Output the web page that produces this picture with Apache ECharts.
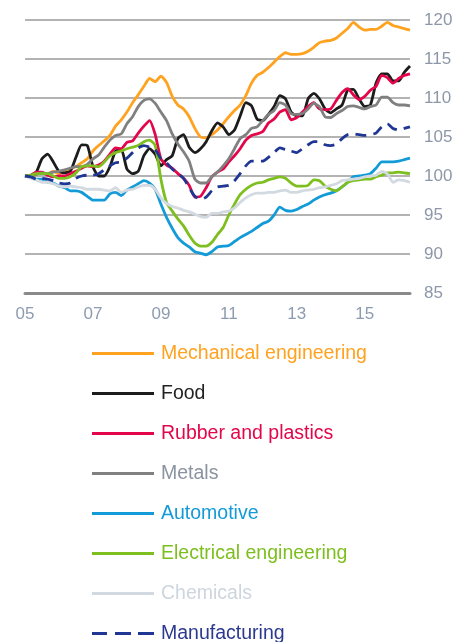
<!DOCTYPE html>
<html>
<head>
<meta charset="utf-8">
<script src="https://cdn.jsdelivr.net/npm/echarts@6/dist/echarts.min.js"></script>
<style>
html,body{margin:0;padding:0;background:#fff;}
#chart{width:457px;height:642px;}
</style>
</head>
<body>
<div id="chart"></div>
<script>
// Bi-monthly index values, Jan 2005 .. May 2016 (2005 = 100)
const startYear = 2005, endYear = 2016, endMonth = 5;
const months = [];
for (let y = startYear; y <= endYear; y++) {
  for (let m = 1; m <= 12; m += 2) {
    if (y === endYear && m > endMonth) break;
    months.push(y + '-' + (m < 10 ? '0' + m : m));
  }
}
const yTicks = [85, 90, 95, 100, 105, 110, 115, 120];

const mechanical = [100,99.8,100.2,100.4,100.3,100.6,100.3,100.6,100.9,101.2,101.7,102.2,103.2,103.9,104.5,105.2,106.4,107.2,108.2,109.4,110.4,111.5,112.5,112.1,112.8,112.0,110.2,109.1,108.6,107.6,106.1,105.0,104.9,105.3,105.9,106.7,107.6,108.4,109.1,110.3,111.9,112.9,113.3,113.9,114.6,115.3,115.8,115.6,115.6,115.7,116.0,116.5,117.1,117.3,117.4,117.7,118.3,118.9,119.7,119.1,118.7,118.8,118.8,119.2,119.7,119.3,119.1,118.9,118.7];
const food = [100,99.9,100.5,102.2,102.8,101.8,100.6,100.4,100.6,102.4,104.0,103.9,101.2,100.0,100.0,101.2,103.2,103.4,100.9,100.3,100.6,102.6,103.5,102.8,101.3,102.1,102.6,104.8,105.3,103.7,103.0,103.5,104.4,105.8,106.8,106.3,105.3,105.9,107.7,109.4,109.0,107.3,107.1,107.9,108.9,110.3,109.9,108.2,107.7,107.7,109.9,110.6,109.9,108.6,108.1,108.6,109.1,111.0,111.1,109.9,108.9,109.1,111.9,113.1,113.1,112.2,112.2,113.3,114.1];
const rubber = [100,100.1,100.5,100.5,100.1,99.9,100,100,100.3,100.6,101.0,101.3,101.2,101.4,101.9,102.8,103.6,103.5,104.3,104.5,105.5,106.4,107.1,105.3,102.2,101.4,101.0,100.3,99.7,98.8,97.3,97.4,98.5,99.9,100.5,100.9,101.8,102.6,103.5,104.6,105.2,105.4,105.7,106.8,107.3,108.2,108.5,107.2,107.5,108.2,108.9,109.4,108.6,108.5,108.6,109.7,110.7,111.2,110.4,109.8,110.2,111.0,111.5,112.9,112.6,111.9,112.5,112.9,113.1];
const metals = [100,100,100.2,100.4,100.3,100.5,100.6,100.8,101.0,101.2,101.2,101.5,102.2,102.7,103.7,104.6,105.2,105.4,106.7,107.6,108.9,109.7,109.9,109.3,108.2,107.1,105.4,104.1,103.1,101.9,99.6,99.1,99.1,99.9,100.5,101.3,102.2,103.5,104.8,105.3,106.1,106.3,107.1,107.9,108.4,109.4,109.1,108.0,107.9,108.0,108.6,109.3,108.9,107.6,107.5,108.0,108.4,108.9,109.0,108.8,108.6,108.9,109.1,110.1,110.1,109.4,109.1,109.1,109.0];
const automotive = [100,99.9,99.6,99.6,99.2,99.1,98.7,98.5,98.1,98.1,97.9,97.4,96.9,96.9,96.9,97.7,97.9,97.5,98.2,98.6,99.0,99.4,99.1,98.3,96.4,94.7,93.3,92.1,91.4,90.9,90.3,90.1,89.9,90.3,90.9,91.0,91.1,91.6,92.1,92.5,92.9,93.4,93.9,94.2,95.0,96.0,95.6,95.5,95.7,96.1,96.4,96.9,97.3,97.6,97.8,98.1,98.6,99.2,99.9,100,100.1,100.3,101.0,101.8,101.8,101.8,101.9,102.1,102.3];
const electrical = [100,100.1,100.3,100.3,100.3,100,99.7,99.7,99.9,100.4,101.2,101.3,101.3,101.2,101.8,102.6,103.0,103.2,103.5,103.7,103.9,104.4,104.6,103.9,99.6,96.6,95.5,94.5,93.6,92.4,91.4,91.0,91.0,91.5,92.5,93.4,95.0,96.4,97.6,98.3,98.8,99.1,99.2,99.5,99.7,99.9,99.7,99.1,98.7,98.7,98.8,99.5,99.4,98.7,98.3,98.1,98.6,99.2,99.4,99.5,99.6,99.6,99.9,100.1,100.4,100.4,100.5,100.4,100.3];
const chemicals = [100,99.7,99.5,99.2,99.2,99.0,98.7,98.6,98.7,98.6,98.5,98.3,98.3,98.3,98.2,98.1,98.5,97.9,98.2,98.3,98.6,98.8,98.8,98.3,97.2,96.5,96.1,95.9,95.6,95.4,95.1,94.8,94.7,95.2,95.2,95.4,95.5,95.9,96.6,97.2,97.6,97.8,97.8,97.9,97.9,98.1,98.2,97.9,97.9,98.1,98.2,98.3,98.5,98.6,98.8,99.0,99.4,99.5,99.6,99.7,99.9,100,100.1,100.6,100.3,99.2,99.5,99.4,99.2];
const manufacturing = [100,99.9,99.6,99.7,99.6,99.4,99.1,99.0,99.1,99.7,100,100.1,100.1,100.3,100.8,101.3,101.7,101.8,102.3,103.0,103.6,103.9,103.7,103.4,102.2,101.7,100.9,100.3,99.7,98.5,97.4,97.0,97.3,98.1,98.6,98.7,98.8,99.4,100.3,101.3,101.9,101.9,101.9,102.4,103.0,103.6,103.4,103.2,103.0,103.5,104.0,104.4,104.4,104.0,103.9,104.1,104.8,105.3,105.4,105.3,105.2,105.3,105.5,106.3,106.7,106.1,105.9,106.1,106.3];

const seriesDefs = [
  {name: 'Mechanical engineering', data: mechanical, color: '#ffa21f', text: '#ffa21f'},
  {name: 'Food', data: food, color: '#1c1c1c', text: '#222222'},
  {name: 'Rubber and plastics', data: rubber, color: '#e3064a', text: '#e3064a'},
  {name: 'Metals', data: metals, color: '#808080', text: '#8a93a0'},
  {name: 'Automotive', data: automotive, color: '#139bd8', text: '#139bd8'},
  {name: 'Electrical engineering', data: electrical, color: '#7dbf1e', text: '#7dbf1e'},
  {name: 'Chemicals', data: chemicals, color: '#d2d9e0', text: '#cdd5de'},
  {name: 'Manufacturing', data: manufacturing, color: '#1f3694', text: '#2b3990', dashed: true}
];

const solidIcon = 'path://M0,0h62v3h-62z';
const dashIcon = 'path://M0,0h15v3h-15zM23,0h16v3h-16zM46,0h16v3h-16z';

const chart = echarts.init(document.getElementById('chart'), null, {renderer: 'canvas'});
const fontFamily = '"Liberation Sans", Arial, sans-serif';
chart.setOption({
  animation: false,
  backgroundColor: '#fff',
  grid: {left: 25, right: 47, top: 20, bottom: 349, containLabel: false},
  xAxis: {
    type: 'category',
    data: months,
    boundaryGap: false,
    axisLine: {show: true, lineStyle: {color: '#8a8a8a', width: 3}},
    axisTick: {show: false},
    splitLine: {show: false},
    axisLabel: {
      interval: function (idx) { return idx % 12 === 0; },
      formatter: function (v) { return v.slice(2, 4); },
      color: '#8d9bb0',
      fontSize: 17,
      fontFamily: fontFamily,
      margin: 13
    }
  },
  yAxis: {
    type: 'value',
    position: 'right',
    min: yTicks[0],
    max: yTicks[yTicks.length - 1],
    interval: 5,
    axisLine: {show: false},
    axisTick: {show: false},
    splitLine: {show: true, lineStyle: {color: '#9a9a9a', width: 1.5}},
    axisLabel: {color: '#8d97a8', fontSize: 17, fontFamily: fontFamily, margin: 14}
  },
  legend: {
    orient: 'vertical',
    left: 87,
    top: 338,
    height: 400,
    itemWidth: 62,
    itemHeight: 3,
    itemGap: 19,
    textStyle: {fontSize: 19.5, fontFamily: fontFamily, lineHeight: 21, padding: [0, 0, 0, 2]},
    data: seriesDefs.map(s => ({
      name: s.name,
      icon: s.dashed ? dashIcon : solidIcon,
      itemStyle: {color: s.color},
      textStyle: {color: s.text}
    }))
  },
  series: seriesDefs.map(s => ({
    name: s.name,
    type: 'line',
    data: s.data,
    symbol: 'none',
    smooth: 0.2,
    lineStyle: {color: s.color, width: 2.8, type: s.dashed ? [11, 7] : 'solid'},
    itemStyle: {color: s.color}
  }))
});
</script>
</body>
</html>
